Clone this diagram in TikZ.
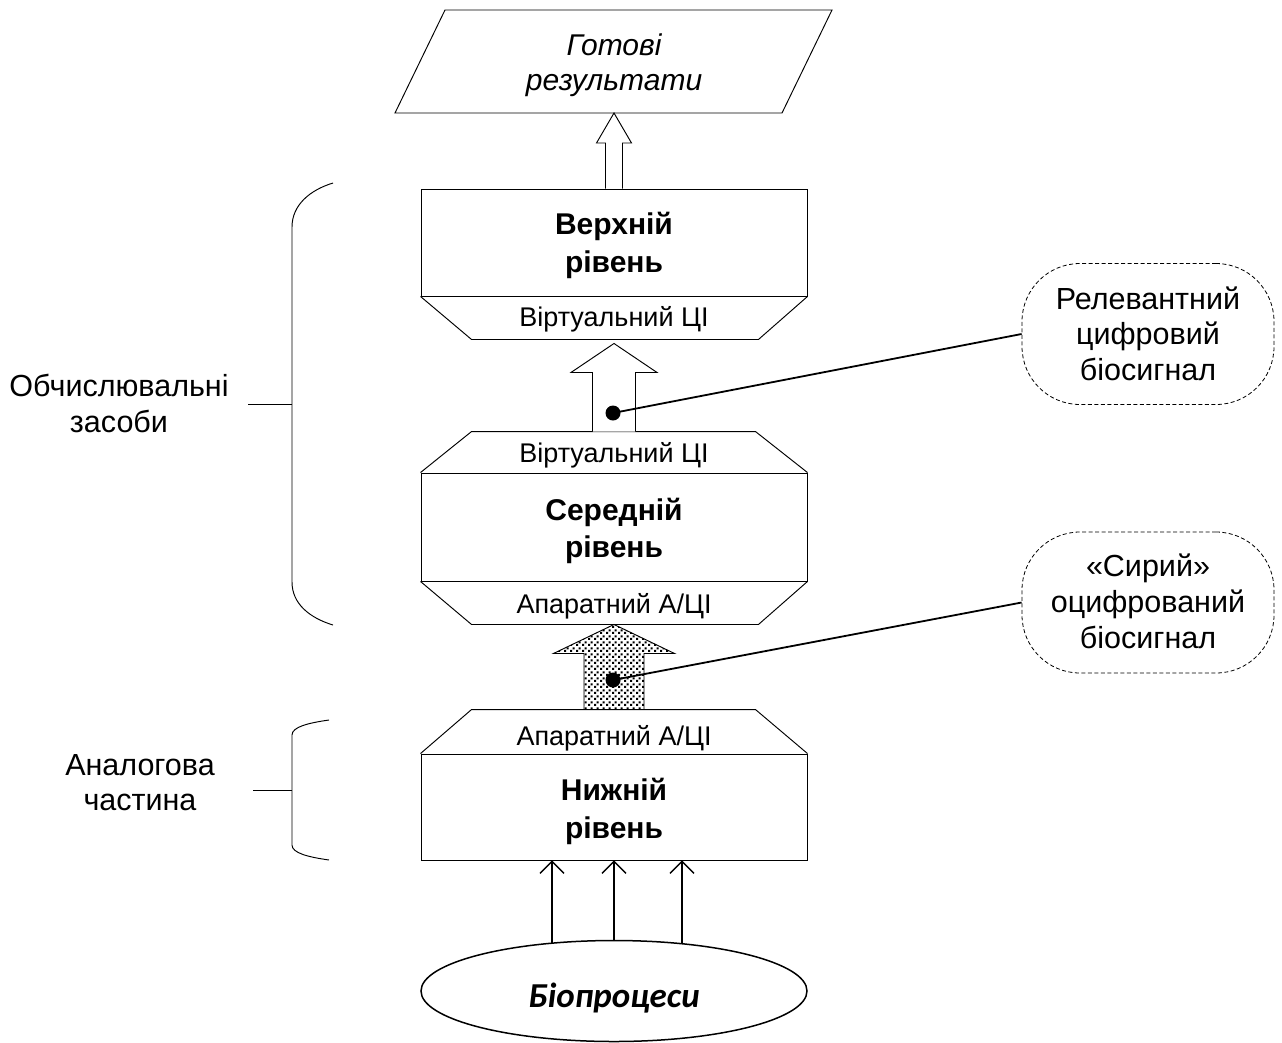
\documentclass[tikz,border=0pt]{standalone}
\usepackage{fontspec}
\setmainfont{Liberation Sans}
\newfontfamily\calfont{Carlito}
\usetikzlibrary{arrows.meta,patterns,calc,shapes.geometric}

% staggered square-dot fill for the raw-signal arrow
\pgfdeclarepatternformonly{sqdots}{\pgfpointorigin}{\pgfpoint{6pt}{6pt}}{\pgfpoint{6pt}{6pt}}{%
  \pgfpathrectangle{\pgfpoint{0pt}{0pt}}{\pgfpoint{2.4pt}{2.4pt}}%
  \pgfpathrectangle{\pgfpoint{3pt}{3pt}}{\pgfpoint{2.4pt}{2.4pt}}%
  \pgfusepath{fill}}

\tikzset{
  frame/.style={draw, line width=0.95pt, line join=miter},
  boxnode/.style={frame, rectangle, inner sep=0pt, minimum width=386, fill=white},
  lvltext/.style={font=\fontsize{30}{37}\selectfont\bfseries, inner sep=0pt, anchor=base},
  adctext/.style={font=\fontsize{27}{32}\selectfont, inner sep=0pt, anchor=base},
  plain/.style={font=\fontsize{30.5}{37}\selectfont, inner sep=0pt, anchor=base},
  callout/.style={draw, line width=0.8pt, dash pattern=on 4pt off 2.5pt,
    rectangle, rounded corners=58pt, minimum width=252, minimum height=141, inner sep=0pt},
  pointer/.style={line width=1.8pt},
  pin/.style={fill=black, circle, inner sep=0pt, minimum size=15},
  inarrow/.style={line width=1.5pt, -{Straight Barb[length=12pt,width=24pt,line width=1.3pt]}},
}

\begin{document}
\begin{tikzpicture}[x=1pt,y=-1pt]
\fill[white] (0,0) rectangle (1282,1042);
\useasboundingbox (0,0) rectangle (1282,1042);

% ---------- results (parallelogram) ----------
\draw[frame] (395,113) -- (782,113) -- (832,10) -- (445,10) -- cycle;
\coordinate (resb) at (614,113);
\node[font=\fontsize{30}{37}\selectfont\itshape, inner sep=0pt, anchor=base] (res1) at (614,55) {Готові};
\node[font=\fontsize{30}{37}\selectfont\itshape, inner sep=0pt, anchor=base] (res2) at (614,90) {результати};

% ---------- upper level ----------
\node[boxnode, minimum height=107] (upper) at (614,242.5) {};
\node[lvltext] (upT1) at (614,234) {Верхній};
\node[lvltext] (upT2) at (614,272) {рівень};
\draw[frame] (upper.south west) -- ++(51,43) coordinate (utl)
  -- ($(upper.south east)+(-49,43)$) -- (upper.south east);
\coordinate (utb) at ($(upper.south)+(0,43)$);
\node[adctext] (upV) at (614,326) {Віртуальний ЦІ};

% ---------- middle level ----------
\node[boxnode, minimum height=108] (middle) at (614,527) {};
\node[lvltext] (midT1) at (614,520) {Середній};
\node[lvltext] (midT2) at (614,557) {рівень};
\draw[frame] (middle.north west) -- ++(51,-41)
  -- ($(middle.north east)+(-52,-41)$) -- (middle.north east);
\coordinate (mtt) at ($(middle.north)+(0,-41)$);
\draw[frame] (middle.south west) -- ++(51,43)
  -- ($(middle.south east)+(-49,43)$) -- (middle.south east);
\coordinate (mtb) at ($(middle.south)+(0,43)$);
\node[adctext] (midV) at (614,462) {Віртуальний ЦІ};
\node[adctext] (midA) at (614,613) {Апаратний А/ЦІ};

% ---------- lower level ----------
\node[boxnode, minimum height=106] (lower) at (614,807) {};
\node[lvltext] (lowT1) at (614,800) {Нижній};
\node[lvltext] (lowT2) at (614,838) {рівень};
\draw[frame] (lower.north west) -- ++(51,-44)
  -- ($(lower.north east)+(-52,-44)$) -- (lower.north east);
\coordinate (ltt) at ($(lower.north)+(0,-44)$);
\node[adctext] (lowA) at (614,745) {Апаратний А/ЦІ};

% ---------- block arrows ----------
% upper level -> results
\draw[frame, fill=white]
  ($(upper.north)+(-8.5,0)$) -- ($(resb)+(-8.5,30)$) -- ($(resb)+(-17.5,30)$) -- (resb)
  -- ($(resb)+(17.5,30)$) -- ($(resb)+(8.5,30)$) -- ($(upper.north)+(8.5,0)$);
% middle level -> upper level (relevant digital signal)
\coordinate (a2tip) at ($(utb)+(0,4)$);
\draw[frame, fill=white]
  ($(mtt)+(-21.5,0)$) -- ($(a2tip)+(-21.5,29)$) -- ($(a2tip)+(-43,29)$) -- (a2tip)
  -- ($(a2tip)+(43,29)$) -- ($(a2tip)+(21.5,29)$) -- ($(mtt)+(21.5,0)$);
% lower level -> middle level (raw digitised signal)
\draw[frame, pattern=sqdots]
  ($(ltt)+(-30,0)$) -- ($(mtb)+(-30,29)$) -- ($(mtb)+(-60.5,29)$) -- (mtb)
  -- ($(mtb)+(60.5,29)$) -- ($(mtb)+(30,29)$) -- ($(ltt)+(30,0)$);

% ---------- callouts ----------
\node[callout] (rel) at (1148,334) {};
\node[plain] (relT1) at (1148,309) {Релевантний};
\node[plain] (relT2) at (1148,344.5) {цифровий};
\node[plain] (relT3) at (1148,380) {біосигнал};
\node[pin] (dot1) at (613,413) {};
\draw[pointer] (dot1.center) -- (rel.west);

\node[callout] (raw) at (1148,602.5) {};
\node[plain] (rawT1) at (1148,576) {«Сирий»};
\node[plain] (rawT2) at (1148,612) {оцифрований};
\node[plain] (rawT3) at (1148,648) {біосигнал};
\node[pin] (dot2) at (613,680) {};
\draw[pointer] (dot2.center) -- (raw.west);

% ---------- side braces ----------
\draw[frame] (333,183) .. controls (310,190) and (292,205) .. (292,227)
  -- (292,582) .. controls (292,604) and (310,618) .. (333,625);
\coordinate (brk1) at (292,404);
\draw[frame] (brk1) -- ++(-44,0);
\node[plain] (compT1) at (119,396) {Обчислювальні};
\node[plain] (compT2) at (119,432) {засоби};

\draw[frame] (329,720) .. controls (308,723) and (292,727) .. (292,735)
  -- (292,845) .. controls (292,853) and (308,857) .. (329,860);
\coordinate (brk2) at (292,790);
\draw[frame] (brk2) -- ++(-39,0);
\node[plain] (anaT1) at (140,775) {Аналогова};
\node[plain] (anaT2) at (140,810) {частина};

% ---------- bioprocesses ----------
\node[draw, line width=1.5pt, ellipse, minimum width=386, minimum height=101, inner sep=0pt]
  (bio) at (614,991) {};
\node[font=\fontsize{35}{40}\selectfont\calfont\bfseries\itshape, inner sep=0pt, anchor=base]
  (bioT) at (614,1007) {Біопроцеси};
\coordinate (in1) at (552,942.5);
\coordinate (in3) at (682,943);
\draw[inarrow] (in1) -- (in1 |- lower.south);
\draw[inarrow] (bio.north) -- (lower.south);
\draw[inarrow] (in3) -- (in3 |- lower.south);
\end{tikzpicture}
\end{document}
